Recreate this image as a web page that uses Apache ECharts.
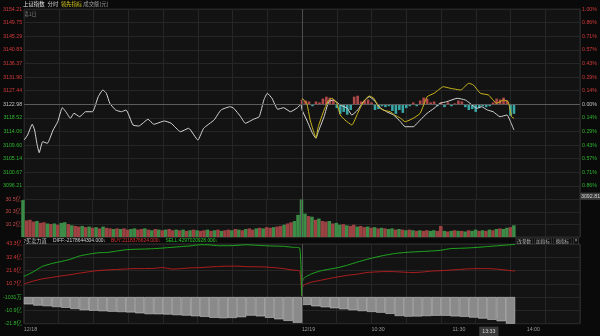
<!DOCTYPE html>
<html>
<head>
<meta charset="utf-8">
<script src="https://cdn.jsdelivr.net/npm/echarts@6.0.0/dist/echarts.min.js"></script>
<style>
html,body{margin:0;padding:0;background:#0a0a0a;}
#chart{width:600px;height:336px;}
</style>
</head>
<body>
<div id="chart"></div>
<script>
// ================= DATA =================
const prevClose = 3122.98;
const lastMarker = 3092.81;
const dayBoundary = 240;          // minute slot where 12/19 starts
const currentTime = '13:33';

const priceTickLabels = ['', '3096.21', '3100.67', '3105.14', '3109.60', '3114.06', '3118.52', '3122.98',
  '3127.44', '3131.90', '3136.37', '3140.83', '3145.29', '3149.75', '3154.21'];
const pctTickLabels = ['', '0.86%', '0.71%', '0.57%', '0.43%', '0.29%', '0.14%', '0.00%',
  '0.14%', '0.29%', '0.43%', '0.57%', '0.71%', '0.86%', '1.00%'];
const volTickLabels = ['', '10.2亿', '20.3亿', '30.5亿'];
const flowTickLabels = ['-21.8亿', '-10.9亿', '-1031万', '10.7亿', '21.6亿', '32.4亿', '43.3亿'];
const timeLabelSlots = [0, 240, 300, 370, 393, 434];
const timeLabels = ['12/18', '12/19', '10:30', '11:30', '13:33', '14:00'];

const headerTexts = ['上证指数', '分时', '领先指标', '成交额(元)'];
const dayTag = '第1日';
const flowTitle = '?买卖力道';
const flowInfo = ['DIFF:-2178644304.000↓', 'BUY:2118376624.000↓', 'SELL:4297020928.000↓'];
const buttonTexts = ['改参数', '加指标', '换指标', '×'];

// index price (white line)
const day1Slots = [0,3,7,9,11,13,16,20,25,29,33,36,40,43,48,53,59,64,68,71,74,79,84,88,94,99,107,112,121,127,135,142,150,155,164,170,178,181,187,191,198,203,207,210,214,219,224,230,236,239];
const day1Price = [3111.27,3112.91,3116.42,3114.55,3110.19,3107.10,3110.71,3110.19,3114.55,3117.27,3121.86,3120.55,3118.39,3120.03,3118.91,3120.55,3120.55,3125.47,3127.67,3126.59,3123.31,3121.11,3120.55,3121.11,3116.19,3115.86,3118.06,3116.42,3117.50,3116.75,3113.99,3115.11,3111.27,3115.11,3117.83,3121.11,3122.19,3121.67,3118.91,3116.75,3118.06,3118.91,3124.39,3126.59,3124.95,3121.34,3121.86,3120.55,3121.86,3122.98];
const day2Slots = [240,244,249,252,254,259,263,267,273,279,283,288,293,298,302,308,313,319,325,329,336,342,348,354,359,365,374,381,385,391,395,400,405,411,417,420,423];
const day2Price = [3121.11,3117.83,3113.47,3111.83,3113.99,3118.91,3123.83,3124.39,3122.75,3121.67,3119.47,3121.11,3123.83,3125.47,3124.39,3121.67,3120.55,3119.47,3117.27,3115.63,3115.63,3117.83,3120.03,3121.67,3123.31,3123.83,3124.95,3124.39,3123.31,3121.67,3122.19,3121.11,3120.55,3118.91,3119.47,3117.27,3114.55];

// leading indicator (yellow line)
const leadSlots = [240,244,247,250,252,254,259,263,266,270,273,277,283,288,293,298,302,306,310,316,320,325,329,336,342,348,354,362,368,377,384,388,394,401,408,414,418,421,423];
const leadVals = [3124.95,3123.31,3117.83,3113.99,3111.93,3115.63,3121.11,3124.39,3124.95,3123.31,3119.47,3117.83,3116.19,3120.03,3123.83,3125.70,3124.95,3122.19,3121.11,3120.55,3119.47,3118.39,3117.27,3118.39,3120.03,3125.47,3126.59,3128.75,3128.23,3127.67,3129.87,3129.31,3126.59,3126.03,3123.31,3124.39,3123.83,3118.91,3118.39];

// red / cyan strength bars (percent), every 3 slots from 240
const strengthStart = 240, strengthStep = 3;
const strengthVals = [0.05,0.04,0.03,-0.02,0.03,0.02,0.06,0.08,0.07,0.05,
  -0.04,-0.10,-0.08,-0.11,-0.06,0.08,0.09,0.03,0.04,0.05,
  0.02,-0.06,-0.05,-0.02,-0.03,-0.02,-0.07,-0.10,-0.06,-0.09,
  -0.04,-0.02,0.02,-0.02,0.04,0.07,0.06,0.02,0.03,-0.02,
  0.02,-0.03,0.02,-0.02,0.01,0.04,0.03,-0.03,-0.06,-0.05,
  -0.08,-0.04,-0.02,-0.03,-0.02,0.02,0.06,0.05,0.07,0.04,
  -0.12,-0.10];

// turnover (亿元), every 3 slots
const volStep = 3;
const volDay1 = [30.0,13.5,14.0,12.5,13.0,11.5,12.0,11.0,10.5,11.0, 10.0,11.5,12.0,10.5,9.5,9.0,8.5,9.0,8.0,8.5,
  7.5,8.0,7.0,8.5,7.5,7.0,6.5,7.0,6.5,7.0, 6.0,6.5,7.0,6.0,6.5,7.0,6.0,5.5,6.5,6.0,
  5.5,6.0,6.5,5.5,6.0,5.5,6.0,5.0,5.5,6.0, 5.5,5.0,5.5,6.0,5.0,5.5,6.0,5.0,5.5,6.0,
  5.5,6.5,6.0,5.5,6.5,7.0,6.0,7.0,7.5,7.0, 8.0,7.5,8.0,8.5,9.0,10.0,11.0,12.0,13.0,18.0];
const volDay1Dir = 'grrrgrrgrg' + 'rggrgrrgrg' + 'rgrgrrgrgr' + 'rggrrgrgrg' + 'rgrrgrgrgr' + 'grrgrgrgrr' + 'grgrgrrgrg' + 'rrgrrgrrgg';
const volDay2 = [30.5,19.0,17.0,16.5,14.0,15.0,13.0,12.5,13.0,11.0, 11.5,10.0,10.5,9.5,9.0,10.0,8.5,9.0,8.0,8.5,
  7.5,8.0,7.0,7.5,7.0,6.5,7.0,6.0,6.5,6.0, 5.5,6.0,5.5,5.0,5.5,5.0,5.5,5.0,5.5,5.0,
  9.0,5.0,4.5,5.0,5.5,5.0,5.0,4.5,5.5,5.0, 6.0,5.0,5.5,5.0,6.0,5.5,6.5,7.0,6.5,7.5, 8.0,9.5];
const volDay2Dir = 'ggrgrgrrgr' + 'ggrgrrgrrg' + 'rgrgrggrgr' + 'grgrgrrggr' + 'rgrgrgrgrg' + 'grgrgrgrgg' + 'rg';

// 买卖力道 (亿元)
const flowSlots = [0,8,16,24,32,40,48,56,64,72,80,88,96,104,112,120,128,136,144,152,160,168,176,184,192,200,208,216,224,232,238,
  240,241,248,256,264,272,280,288,296,304,312,320,328,336,344,352,360,368,376,384,392,400,408,416,424];
const sellVals = [16.8,20.5,25.0,27.3,29.0,30.8,33.5,35.0,36.1,36.4,37.5,38.6,39.0,39.2,39.5,40.0,40.6,41.2,41.8,42.7,42.6,41.9,41.9,42.2,42.7,42.3,41.9,41.6,41.4,40.6,40.1,
  1.2,14.6,18.8,21.3,22.8,24.2,26.2,28.6,30.7,32.6,34.2,35.5,36.3,36.8,37.2,37.6,38.2,39.5,39.8,40.1,40.6,41.2,41.8,42.4,42.97];
const buyVals = [10.6,13.0,14.8,16.0,17.2,18.2,19.5,20.6,21.6,22.1,22.5,22.9,23.2,23.2,23.4,24.0,22.8,23.2,23.8,24.0,24.5,24.9,25.2,25.2,24.8,24.7,24.5,24.0,23.2,22.0,21.3,
  0.8,9.2,12.1,13.6,15.2,16.6,17.8,18.7,20.0,20.5,20.8,20.7,20.3,20.0,20.4,21.2,21.5,22.0,22.5,23.0,23.2,23.2,22.8,22.0,21.18];
const diffStep = 8;
const diffDay1Start = 4;
const diffDay1 = [-6.0,-7.0,-7.5,-8.2,-8.8,-9.8,-10.8,-11.2,-11.6,-12.0,
  -12.3,-12.6,-13.3,-14.0,-14.1,-14.3,-14.8,-15.2,-15.7,-16.2,
  -17.0,-17.3,-17.1,-16.5,-15.2,-15.8,-17.0,-18.2,-19.5,-21.0];
const diffDay2Start = 244;
const diffDay2 = [-6.5,-7.6,-8.4,-9.2,-10.0,-10.8,-11.5,-12.2,-12.8,-13.8,
  -15.5,-16.0,-15.9,-15.6,-15.3,-15.3,-15.8,-16.2,-16.8,-17.6,
  -18.6,-19.8,-21.79];

// ================= STYLE =================
const FONT = '"Liberation Sans", "Noto Sans CJK SC", sans-serif';
const CJK = '"Noto Sans CJK SC", "Liberation Sans", sans-serif';
const TXT_RED = '#d23a3a', TXT_GREEN = '#2fb52f', TXT_GRAY = '#c4c4c4';
const GRID_LINE = '#262626';
const PANEL_BG = '#131313';

const pairs = (s, v) => s.map((x, i) => [x, v[i]]);
const stepped = (start, step, vals) => vals.map((v, i) => [start + i * step, v]);

const strengthData = stepped(strengthStart, strengthStep, strengthVals).map(p => ({
  value: p, itemStyle: { color: p[1] >= 0 ? '#b04848' : '#3aa5a5' }
}));
const volData = stepped(0, volStep, volDay1).map((p, i) => ({ value: p, itemStyle: { color: volDay1Dir[i] === 'r' ? '#9c4242' : '#3c8c48' } }))
  .concat(stepped(dayBoundary, volStep, volDay2).map((p, i) => ({ value: p, itemStyle: { color: volDay2Dir[i] === 'r' ? '#9c4242' : '#3c8c48' } })));
const diffData = stepped(diffDay1Start, diffStep, diffDay1).concat(stepped(diffDay2Start, diffStep, diffDay2));

const baseX = (gi) => ({
  type: 'value', gridIndex: gi, min: 0, max: 480, interval: 30,
  axisLine: { show: false }, axisTick: { show: false }, axisLabel: { show: false },
  splitLine: { show: true, lineStyle: { color: GRID_LINE, width: 1 } }
});
const axisLabelBase = { fontSize: 5.3, fontFamily: FONT, margin: 2 };
const dividerLine = {
  silent: true, symbol: 'none', label: { show: false },
  lineStyle: { color: '#4e4e4e', type: 'solid', width: 1 },
  data: [{ xAxis: dayBoundary }]
};
const gridBase = { left: 23, right: 20, show: true, backgroundColor: PANEL_BG, borderColor: '#2e2e2e', borderWidth: 1 };

const option = {
  backgroundColor: '#0a0a0a',
  animation: false,
  grid: [
    Object.assign({ top: 9.1, height: 190.4 }, gridBase),
    Object.assign({ top: 199.5, height: 37.5 }, gridBase),
    Object.assign({ top: 244, height: 81 }, gridBase)
  ],
  xAxis: [
    baseX(0),
    baseX(1),
    Object.assign(baseX(2), {
      axisLabel: {
        show: true, customValues: timeLabelSlots, align: 'left', color: '#9a9a9a',
        fontSize: 5.3, fontFamily: FONT, margin: 3,
        formatter: function (v) {
          const i = timeLabelSlots.indexOf(Number(v));
          if (i < 0) return '';
          const t = timeLabels[i];
          return t === currentTime ? '{box|' + t + '}' : t;
        },
        rich: { box: { backgroundColor: '#3a3a3a', color: '#d0d0d0', padding: [2, 3, 2, 3], fontSize: 5.3, fontFamily: FONT } }
      }
    })
  ],
  yAxis: [
    {
      type: 'value', gridIndex: 0, position: 'left', min: 3091.75, max: 3154.2096, interval: 4.4614,
      axisLine: { show: false }, axisTick: { show: false },
      splitLine: { show: true, lineStyle: { color: GRID_LINE } },
      axisLabel: Object.assign({}, axisLabelBase, {
        formatter: (v, i) => priceTickLabels[i] || '',
        color: (v) => { const d = parseFloat(v) - prevClose; return d > 0.01 ? TXT_RED : (d < -0.01 ? TXT_GREEN : TXT_GRAY); }
      })
    },
    {
      type: 'value', gridIndex: 0, position: 'right', min: -1, max: 1, interval: 1 / 7,
      axisLine: { show: false }, axisTick: { show: false }, splitLine: { show: false },
      axisLabel: Object.assign({}, axisLabelBase, {
        align: 'left',
        formatter: (v, i) => pctTickLabels[i] || '',
        color: (v) => { const d = parseFloat(v); return d > 0.001 ? TXT_RED : (d < -0.001 ? TXT_GREEN : TXT_GRAY); }
      })
    },
    {
      type: 'value', gridIndex: 1, position: 'left', min: 0, max: 30.5, interval: 30.5 / 3,
      axisLine: { show: false }, axisTick: { show: false },
      splitLine: { show: true, lineStyle: { color: GRID_LINE } },
      axisLabel: Object.assign({}, axisLabelBase, { formatter: (v, i) => volTickLabels[i] || '', color: '#c04a4a' })
    },
    {
      type: 'value', gridIndex: 2, position: 'left', min: -21.8, max: 43.3, interval: 10.85,
      axisLine: { show: false }, axisTick: { show: false },
      splitLine: { show: true, lineStyle: { color: GRID_LINE } },
      axisLabel: Object.assign({}, axisLabelBase, {
        formatter: (v, i) => flowTickLabels[i] || '',
        color: (v) => parseFloat(v) > 0 ? TXT_RED : TXT_GREEN
      })
    }
  ],
  series: [
    {
      name: 'strength', type: 'bar', xAxisIndex: 0, yAxisIndex: 1, barWidth: 2.6,
      data: strengthData, z: 2
    },
    {
      name: 'price', type: 'line', xAxisIndex: 0, yAxisIndex: 0, showSymbol: false, smooth: 0.15,
      lineStyle: { color: '#d6d6d6', width: 1 }, itemStyle: { color: '#d6d6d6' },
      data: pairs(day1Slots, day1Price).concat(pairs(day2Slots, day2Price)), z: 4,
      markLine: {
        silent: true, symbol: 'none', animation: false,
        label: { show: false },
        data: [
          { yAxis: prevClose, lineStyle: { color: '#5c5c5c', type: 'solid', width: 1 } },
          { xAxis: dayBoundary, lineStyle: { color: '#4e4e4e', type: 'solid', width: 1 } }
        ]
      }
    },
    {
      name: 'marker', type: 'line', xAxisIndex: 0, yAxisIndex: 0, showSymbol: false,
      data: [], silent: true,
      markLine: {
        silent: true, symbol: 'none', animation: false,
        lineStyle: { color: 'rgba(0,0,0,0)', width: 0 },
        label: {
          show: true, position: 'end', distance: 0, formatter: String(lastMarker),
          backgroundColor: '#3a3a3a', color: '#d0d0d0', padding: [1, 1, 1, 1], fontSize: 5.3, fontFamily: FONT
        },
        data: [{ yAxis: lastMarker }]
      }
    },
    {
      name: 'lead', type: 'line', xAxisIndex: 0, yAxisIndex: 0, showSymbol: false, smooth: 0.15,
      lineStyle: { color: '#cdb81c', width: 1 }, itemStyle: { color: '#cdb81c' },
      data: pairs(leadSlots, leadVals), z: 5
    },
    {
      name: 'turnover', type: 'bar', xAxisIndex: 1, yAxisIndex: 2, barWidth: 3.5,
      data: volData, markLine: dividerLine
    },
    {
      name: 'DIFF', type: 'bar', xAxisIndex: 2, yAxisIndex: 3, barWidth: 9.3,
      itemStyle: { color: '#8a8a8a', borderColor: '#c6c6c6', borderWidth: 0.6 },
      data: diffData, markLine: dividerLine
    },
    {
      name: 'BUY', type: 'line', xAxisIndex: 2, yAxisIndex: 3, showSymbol: false, smooth: 0.2,
      lineStyle: { color: '#b01e1e', width: 1 }, itemStyle: { color: '#b01e1e' },
      data: pairs(flowSlots, buyVals), z: 4
    },
    {
      name: 'SELL', type: 'line', xAxisIndex: 2, yAxisIndex: 3, showSymbol: false, smooth: 0.2,
      lineStyle: { color: '#1fa81f', width: 1 }, itemStyle: { color: '#1fa81f' },
      data: pairs(flowSlots, sellVals), z: 4
    }
  ],
  graphic: [
    { type: 'text', x: 23, y: 4, style: { text: headerTexts[0], fill: '#e6e6e6', font: '5.4px ' + CJK, verticalAlign: 'middle' } },
    { type: 'text', x: 47.5, y: 4, style: { text: headerTexts[1], fill: '#c8c8c8', font: '5.4px ' + CJK, verticalAlign: 'middle' } },
    { type: 'text', x: 60.7, y: 4, style: { text: headerTexts[2], fill: '#d8c81c', font: '5.4px ' + CJK, verticalAlign: 'middle' } },
    { type: 'text', x: 83.3, y: 4, style: { text: headerTexts[3], fill: '#a0a0a0', font: '5.4px ' + CJK, verticalAlign: 'middle' } },
    { type: 'text', x: 23.5, y: 14, style: { text: dayTag, fill: '#7a7a7a', font: '5.2px ' + CJK, verticalAlign: 'middle' } },

    { type: 'text', x: 23.5, y: 240.7, style: { text: flowTitle, fill: '#c8c8c8', font: '5.2px ' + CJK, verticalAlign: 'middle' } },
    { type: 'text', x: 53, y: 240.7, style: { text: flowInfo[0], fill: '#d4d4d4', font: '4.9px ' + FONT, verticalAlign: 'middle' } },
    { type: 'text', x: 111, y: 240.7, style: { text: flowInfo[1], fill: '#e03232', font: '4.9px ' + FONT, verticalAlign: 'middle' } },
    { type: 'text', x: 165.5, y: 240.7, style: { text: flowInfo[2], fill: '#2ec82e', font: '4.9px ' + FONT, verticalAlign: 'middle' } },

    { type: 'rect', shape: { x: 516, y: 238.2, width: 16.5, height: 5.8 }, style: { fill: '#0e0e0e', stroke: '#4a4a4a', lineWidth: 0.6 } },
    { type: 'rect', shape: { x: 534.5, y: 238.2, width: 17, height: 5.8 }, style: { fill: '#0e0e0e', stroke: '#4a4a4a', lineWidth: 0.6 } },
    { type: 'rect', shape: { x: 553.3, y: 238.2, width: 18, height: 5.8 }, style: { fill: '#0e0e0e', stroke: '#4a4a4a', lineWidth: 0.6 } },
    { type: 'rect', shape: { x: 573.5, y: 238.2, width: 5, height: 5.8 }, style: { fill: '#0e0e0e', stroke: '#4a4a4a', lineWidth: 0.6 } },
    { type: 'text', x: 524.25, y: 241.1, style: { text: buttonTexts[0], fill: '#b4b4b4', font: '4.6px ' + CJK, align: 'center', verticalAlign: 'middle' } },
    { type: 'text', x: 543, y: 241.1, style: { text: buttonTexts[1], fill: '#b4b4b4', font: '4.6px ' + CJK, align: 'center', verticalAlign: 'middle' } },
    { type: 'text', x: 562.3, y: 241.1, style: { text: buttonTexts[2], fill: '#b4b4b4', font: '4.6px ' + CJK, align: 'center', verticalAlign: 'middle' } },
    { type: 'text', x: 576, y: 241.1, style: { text: buttonTexts[3], fill: '#b4b4b4', font: '4.6px ' + FONT, align: 'center', verticalAlign: 'middle' } }
  ]
};

const chart = echarts.init(document.getElementById('chart'), null, { renderer: 'canvas', width: 600, height: 336 });
chart.setOption(option);
</script>
</body>
</html>
